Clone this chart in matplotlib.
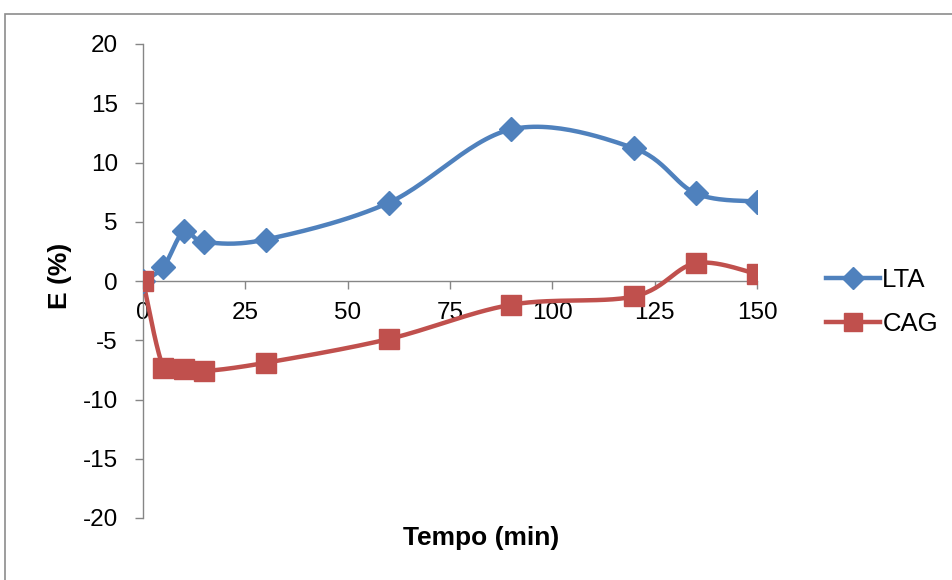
import numpy as np
import matplotlib
matplotlib.use("Agg")
import matplotlib.pyplot as plt
from matplotlib.patches import Rectangle

plt.rcParams['font.family'] = ['Liberation Sans', 'DejaVu Sans']
plt.rcParams['axes.unicode_minus'] = False

tempo = [0, 5, 10, 15, 30, 60, 90, 120, 135, 150]
lta = [0.0, 1.2, 4.2, 3.3, 3.5, 6.6, 12.8, 11.2, 7.4, 6.7]
cag = [0.0, -7.3, -7.4, -7.6, -6.9, -4.9, -2.0, -1.3, 1.5, 0.6]

x_ticks = [0, 25, 50, 75, 100, 125, 150]
y_ticks = [-20, -15, -10, -5, 0, 5, 10, 15, 20]

BLUE = '#4F81BD'
RED = '#C0504D'
AXIS_GRAY = '#868686'

W, H = 953, 580
fig = plt.figure(figsize=(W / 100, H / 100), dpi=100)
ax = fig.add_axes([143 / W, 1 - 518 / H, (757 - 143) / W, (518 - 44) / H])
ax.set_xlim(0, 150)
ax.set_ylim(-20, 20)


def smooth(ax, xs, ys, n=30):
    """Catmull-Rom style Bezier smoothing computed in display space."""
    pts = ax.transData.transform(np.column_stack([xs, ys]))
    out = [pts[0]]
    m = len(pts)
    for i in range(m - 1):
        p0 = pts[i - 1] if i > 0 else pts[i]
        p1 = pts[i]
        p2 = pts[i + 1]
        p3 = pts[i + 2] if i + 2 < m else pts[i + 1]
        c1 = p1 + (p2 - p0) / 6.0
        c2 = p2 - (p3 - p1) / 6.0
        t = np.linspace(0, 1, n)[1:, None]
        seg = ((1 - t) ** 3) * p1 + 3 * ((1 - t) ** 2) * t * c1 \
            + 3 * (1 - t) * t ** 2 * c2 + t ** 3 * p2
        out.extend(seg)
    out = np.array(out)
    return ax.transData.inverted().transform(out)


for ys, col, mk, ms, name in [(lta, BLUE, 'D', 12, 'LTA'), (cag, RED, 's', 14, 'CAG')]:
    curve = smooth(ax, tempo, ys)
    ax.plot(curve[:, 0], curve[:, 1], color=col, lw=3.2, solid_capstyle='round', zorder=3)
    ax.plot(tempo, ys, linestyle='none', marker=mk, ms=ms, color=col, zorder=4)
    ax.plot([], [], color=col, lw=3.2, marker=mk, ms=ms * 0.9, label=name)

ax.spines['top'].set_visible(False)
ax.spines['right'].set_visible(False)
ax.spines['bottom'].set_position(('data', 0))
for s in ('left', 'bottom'):
    ax.spines[s].set_color(AXIS_GRAY)
    ax.spines[s].set_linewidth(1.0)

ax.set_xticks(x_ticks)
ax.set_yticks(y_ticks)
ax.tick_params(axis='both', direction='out', length=6, width=1.0, color=AXIS_GRAY,
               labelsize=17.5, labelcolor='black')
ax.tick_params(axis='x', pad=9)
ax.tick_params(axis='y', pad=12)

fig.text(481 / W, 1 - 538 / H, 'Tempo (min)', ha='center', va='center',
         fontsize=19, fontweight='bold')
fig.text(60 / W, 1 - 276 / H, 'E (%)', ha='center', va='center',
         fontsize=19, fontweight='bold', rotation=90)

ax.legend(loc='center left', bbox_to_anchor=(813 / W, 1 - 302 / H),
          bbox_transform=fig.transFigure, frameon=False, fontsize=18.5,
          handlelength=2.1, handletextpad=0.1, labelspacing=0.8,
          borderpad=0.0)

fig.patches.append(Rectangle((5 / W, -0.1), 1.2, 1 - 14 / H + 0.1,
                             transform=fig.transFigure, fill=False,
                             edgecolor='#8c8c8c', lw=1.2, figure=fig))

fig.savefig('out.png', dpi=100)
